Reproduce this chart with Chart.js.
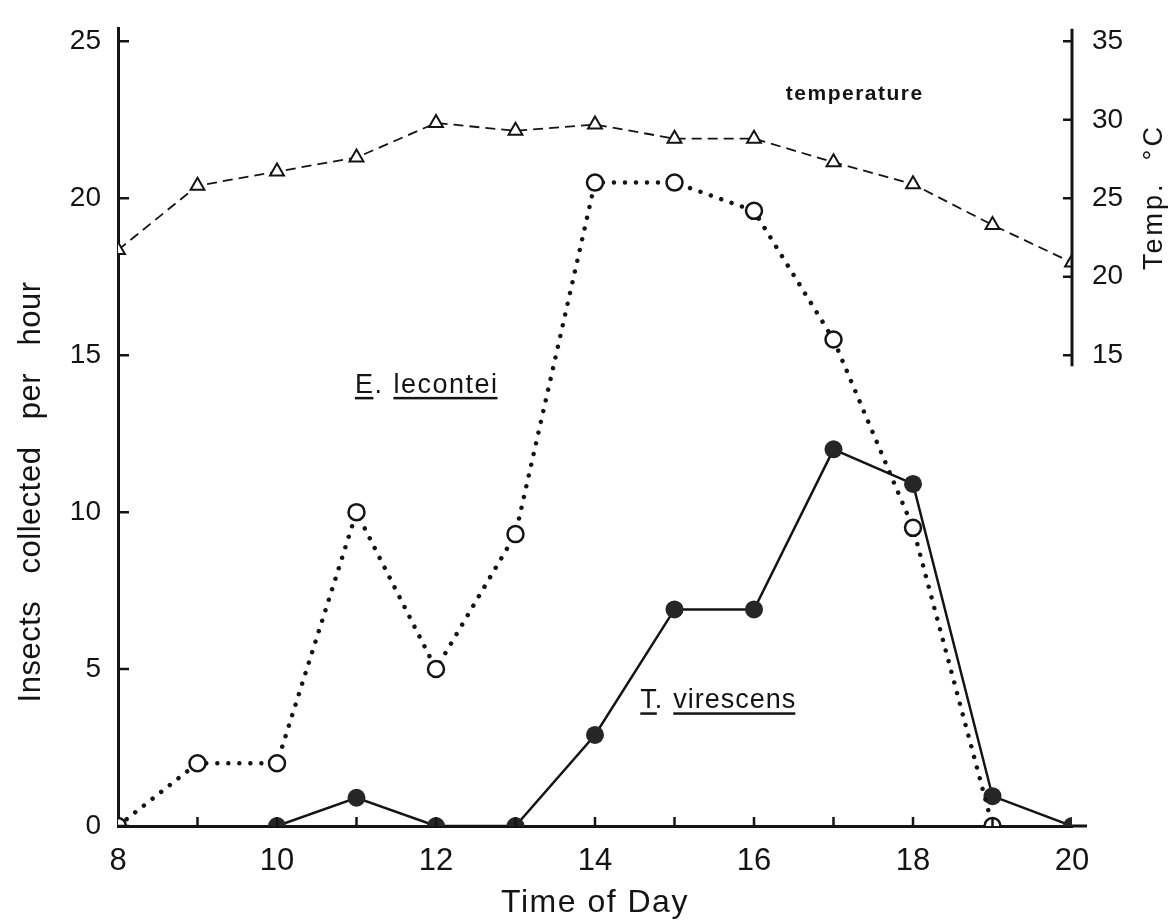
<!DOCTYPE html>
<html>
<head>
<meta charset="utf-8">
<title>Insects collected per hour</title>
<script src="https://cdn.jsdelivr.net/npm/chart.js@4.4.1/dist/chart.umd.min.js"></script>
<style>
    html, body { margin: 0; padding: 0; background: #ffffff; }
    #chart { display: block; }
</style>
</head>
<body>
<canvas id="chart" width="1172" height="921"></canvas>
<script>
// values
const hours = [8, 9, 10, 11, 12, 13, 14, 15, 16, 17, 18, 19, 20];
const hourLabels = [8, 10, 12, 14, 16, 18, 20];
const countTicks = [0, 5, 10, 15, 20, 25];
const tempTicks = [15, 20, 25, 30, 35];
const lecontei = [0, 2, 2, 10, 5, 9.3, 20.5, 20.5, 19.6, 15.5, 9.5, 0, null];
const virescens = [null, null, 0, 0.9, 0, 0, 2.9, 6.9, 6.9, 12, 10.9, 0.95, 0];
const temperature = [21.7, 25.8, 26.7, 27.6, 29.8, 29.3, 29.7, 28.8, 28.8, 27.3, 25.9, 23.3, 20.9];

const INK = '#141414';
const FONT = '"Liberation Sans", Arimo, "DejaVu Sans Condensed", sans-serif';

Chart.defaults.font.family = FONT;
Chart.defaults.color = INK;

function toPoints(values) {
    return hours.map((h, i) => ({ x: h, y: values[i] }));
}

// draws text with an underline, returns the x where it ended
function underlined(ctx, text, x, y, underlineWidth) {
    ctx.fillText(text, x, y);
    const w = underlineWidth || ctx.measureText(text).width;
    ctx.fillRect(x, y + 4, w, 2.5);
    return x + ctx.measureText(text).width;
}

const framePlugin = {
    id: 'framePlugin',
    beforeDraw(chart) {
        chart.ctx.letterSpacing = '0px';
    },
    afterDraw(chart) {
        const { ctx, chartArea: a } = chart;
        const { x, y, y2 } = chart.scales;
        ctx.save();
        ctx.strokeStyle = INK;
        ctx.fillStyle = INK;

        // right axis only covers 15..35, x axis runs a little past it
        ctx.lineWidth = 3;
        ctx.beginPath();
        ctx.moveTo(a.right, y2.getPixelForValue(14.3));
        ctx.lineTo(a.right, a.top);
        ctx.moveTo(a.right, a.bottom);
        ctx.lineTo(a.right + 15, a.bottom);
        ctx.stroke();

        // tick marks point inward
        ctx.lineWidth = 2.5;
        ctx.beginPath();
        countTicks.forEach(v => {
            const py = y.getPixelForValue(v);
            ctx.moveTo(a.left, py);
            ctx.lineTo(a.left + 11, py);
        });
        tempTicks.forEach(v => {
            const py = y2.getPixelForValue(v);
            ctx.moveTo(a.right, py);
            ctx.lineTo(a.right - 9, py);
        });
        hours.slice(1, -1).forEach(h => {
            const px = x.getPixelForValue(h);
            ctx.moveTo(px, a.bottom);
            ctx.lineTo(px, a.bottom - 9);
        });
        ctx.stroke();

        // axis titles
        ctx.textBaseline = 'alphabetic';
        ctx.textAlign = 'center';
        ctx.letterSpacing = '1.5px';
        ctx.font = '32px ' + FONT;
        ctx.fillText('Time of Day', (a.left + a.right) / 2, 912);

        ctx.letterSpacing = '0.5px';
        ctx.font = '31px ' + FONT;
        ctx.save();
        ctx.translate(40, 492);
        ctx.rotate(-Math.PI / 2);
        ctx.fillText('Insects   collected   per   hour', 0, 0);
        ctx.restore();

        ctx.font = '27px ' + FONT;
        ctx.letterSpacing = '3px';
        ctx.save();
        ctx.translate(1162, 197);
        ctx.rotate(-Math.PI / 2);
        ctx.fillText('Temp.  °C', 0, 0);
        ctx.restore();

        // labels on the curves
        ctx.textAlign = 'left';
        ctx.font = '600 21px ' + FONT;
        ctx.letterSpacing = '1.5px';
        ctx.fillText('temperature', x.getPixelForValue(16.4), y2.getPixelForValue(31.25));

        ctx.font = '27px ' + FONT;
        ctx.letterSpacing = '1.5px';
        let px = x.getPixelForValue(10.98);
        let py = y.getPixelForValue(13.8);
        px = underlined(ctx, 'E.', px, py, ctx.measureText('E').width - 1);
        underlined(ctx, 'lecontei', px + 10, py, ctx.measureText('lecontei').width - 1);

        ctx.letterSpacing = '1px';
        px = x.getPixelForValue(14.57);
        py = y.getPixelForValue(3.75);
        px = underlined(ctx, 'T.', px, py, ctx.measureText('T').width - 1);
        underlined(ctx, 'virescens', px + 10, py, ctx.measureText('virescens').width - 1);

        ctx.restore();
    }
};

new Chart(document.getElementById('chart').getContext('2d'), {
    type: 'line',
    data: {
        datasets: [
            {
                label: 'temperature',
                data: toPoints(temperature),
                yAxisID: 'y2',
                borderColor: INK,
                borderWidth: 1.8,
                borderDash: [10, 6],
                pointStyle: 'triangle',
                pointRadius: 8,
                pointBorderWidth: 2,
                pointBorderColor: INK,
                pointBackgroundColor: '#ffffff'
            },
            {
                label: 'E. lecontei',
                data: toPoints(lecontei),
                yAxisID: 'y',
                borderColor: INK,
                borderWidth: 4.5,
                borderDash: [0.01, 11],
                borderCapStyle: 'round',
                pointStyle: 'circle',
                pointRadius: 8,
                pointBorderWidth: 2.5,
                pointBorderColor: INK,
                pointBackgroundColor: '#ffffff'
            },
            {
                label: 'T. virescens',
                data: toPoints(virescens),
                yAxisID: 'y',
                borderColor: INK,
                borderWidth: 2.5,
                pointStyle: 'circle',
                pointRadius: 9,
                pointBorderWidth: 0,
                pointBackgroundColor: '#262626'
            }
        ]
    },
    options: {
        responsive: false,
        animation: false,
        events: [],
        layout: { padding: { top: 20, left: 0, right: 0, bottom: 0 } },
        plugins: {
            legend: { display: false },
            tooltip: { enabled: false }
        },
        scales: {
            x: {
                type: 'linear',
                min: 8,
                max: 20,
                grid: { display: false },
                border: { display: true, color: INK, width: 3 },
                afterBuildTicks: scale => { scale.ticks = hours.map(h => ({ value: h })); },
                afterFit: scale => { scale.height = 95; },
                ticks: {
                    autoSkip: false,
                    maxRotation: 0,
                    padding: 9,
                    font: { size: 31 },
                    callback: value => hourLabels.includes(value) ? String(value) : ''
                }
            },
            y: {
                position: 'left',
                min: 0,
                max: 25.4,
                grid: { display: false },
                border: { display: true, color: INK, width: 3 },
                afterBuildTicks: scale => { scale.ticks = countTicks.map(v => ({ value: v })); },
                afterFit: scale => { scale.width = 118; },
                ticks: {
                    padding: 9,
                    font: { size: 28 },
                    callback: value => String(value)
                }
            },
            y2: {
                position: 'right',
                min: -15,
                max: 35.8,
                grid: { display: false },
                border: { display: false },
                afterBuildTicks: scale => { scale.ticks = tempTicks.map(v => ({ value: v })); },
                afterFit: scale => { scale.width = 100; },
                ticks: {
                    padding: 12,
                    font: { size: 28 },
                    callback: value => String(value)
                }
            }
        }
    },
    plugins: [framePlugin]
});
</script>
</body>
</html>
